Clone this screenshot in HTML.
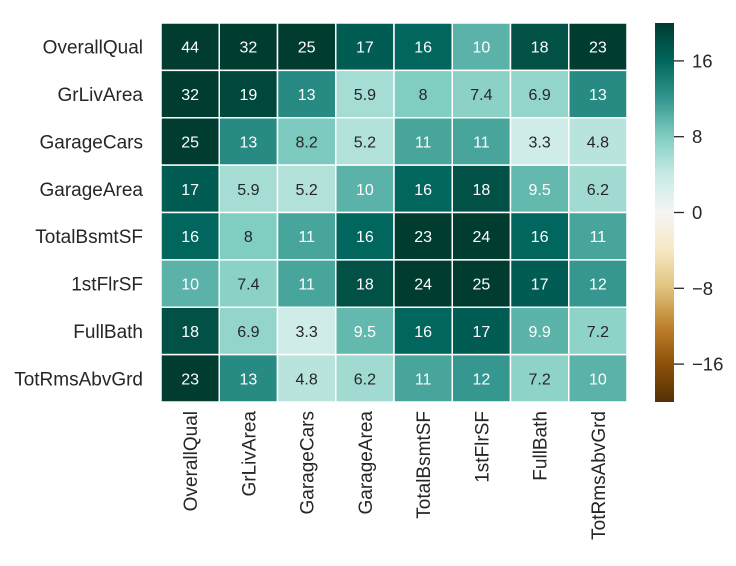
<!DOCTYPE html>
<html><head><meta charset="utf-8"><style>
body{margin:0;background:#fff}
svg text{font-family:"Liberation Sans",Arial,sans-serif;fill:#262626}
</style></head><body>
<svg id="c" width="736" height="561" xmlns="http://www.w3.org/2000/svg">
<defs><linearGradient id="cb" x1="0" y1="1" x2="0" y2="0"></linearGradient></defs>
<g id="cells"></g>
<g id="ylab"></g>
<g id="xlab"></g>
<rect x="655" y="23" width="19" height="379" fill="url(#cb)"/>
<g id="cbt"></g>
</svg>
<script>
const labels=["OverallQual","GrLivArea","GarageCars","GarageArea","TotalBsmtSF","1stFlrSF","FullBath","TotRmsAbvGrd"];
const values=[
[44,32,25,17,16,10,18,23],
[32,19,13,5.9,8,7.4,6.9,13],
[25,13,8.2,5.2,11,11,3.3,4.8],
[17,5.9,5.2,10,16,18,9.5,6.2],
[16,8,11,16,23,24,16,11],
[10,7.4,11,18,24,25,17,12],
[18,6.9,3.3,9.5,16,17,9.9,7.2],
[23,13,4.8,6.2,11,12,7.2,10]];
const cbTicks=[-16,-8,0,8,16];
const vmin=-20,vmax=20;
const pal=["#543005","#8c510a","#bf812d","#dfc27d","#f6e8c3","#f5f5f5","#c7eae5","#80cdc1","#35978f","#01665e","#003c30"];
const NS="http://www.w3.org/2000/svg";
const X0=161,Y0=23,W=466,H=379,n=labels.length,cw=W/n,ch=H/n;
function hex(h){return [1,3,5].map(i=>parseInt(h.substr(i,2),16));}
function cmap(v){let t=Math.max(0,Math.min(1,(v-vmin)/(vmax-vmin)))*(pal.length-1);let i=Math.min(Math.floor(t),pal.length-2),f=t-i;const a=hex(pal[i]),b=hex(pal[i+1]);return a.map((x,k)=>Math.round(x+(b[k]-x)*f));}
function lum(c){const l=c.map(x=>{x/=255;return x<=0.03928?x/12.92:Math.pow((x+0.055)/1.055,2.4)});return 0.2126*l[0]+0.7152*l[1]+0.0722*l[2];}
function mk(t,a,p){const e=document.createElementNS(NS,t);for(const k in a)e.setAttribute(k,a[k]);p.appendChild(e);return e;}
const cells=document.getElementById('cells');
values.forEach((row,r)=>row.forEach((v,c)=>{
 const col=cmap(v);
 const rc=mk('rect',{x:X0+c*cw,y:Y0+r*ch,width:cw,height:ch,fill:`rgb(${col})`,stroke:'#fff','stroke-width':1.5},cells);
 
 
 const tx=mk('text',{x:X0+c*cw+cw/2,y:Y0+r*ch+ch/2+6,'text-anchor':'middle','font-size':16},cells);
 
 
 tx.style.fill=lum(col)>0.408?'#262626':'#ffffff';
 tx.textContent=String(v);
}));
const yl=document.getElementById('ylab'),xl=document.getElementById('xlab');
labels.forEach((l,i)=>{
 const t=mk('text',{x:143,y:Y0+i*ch+ch/2+7,'text-anchor':'end','font-size':19},yl);
 
 
 t.textContent=l;
 const cx=X0+i*cw+cw/2;
 const u=mk('text',{x:0,y:0,'text-anchor':'end','font-size':19,transform:`translate(${cx+7},411) rotate(-90)`},xl);
 
 
 u.textContent=l;
});
const g=document.getElementById('cb');
for(let k=0;k<=20;k++){const v=vmin+(vmax-vmin)*k/20;mk('stop',{offset:k/20,'stop-color':`rgb(${cmap(v)})`},g);}
const cbt=document.getElementById('cbt');
cbTicks.forEach(v=>{
 const y=Y0+H-(v-vmin)/(vmax-vmin)*H;
 const ln=mk('line',{x1:674,x2:684,y1:y,y2:y,stroke:'#262626','stroke-width':1.3},cbt);
 
 
 const t=mk('text',{x:692,y:y+6.5,'font-size':18.5},cbt);
 
 
 t.textContent=v<0?'\u2212'+(-v):String(v);
});
</script>
</body></html>
